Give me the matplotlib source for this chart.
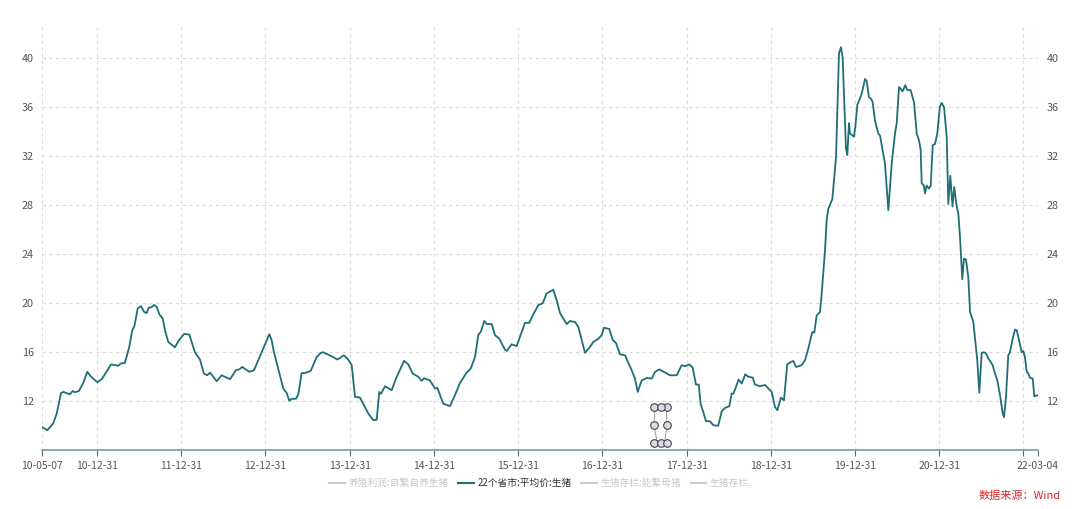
import pandas as pd
import matplotlib
matplotlib.use("Agg")
import matplotlib.pyplot as plt
from matplotlib.lines import Line2D

plt.rcParams['font.family'] = ['Noto Sans CJK SC', 'DejaVu Sans']

# weekly hog price, 22 provinces average (yuan/kg), time as decimal year
t_year = [
    2010.345, 2010.408, 2010.479, 2010.520, 2010.571, 2010.598, 2010.677, 2010.710, 2010.737, 2010.784,
    2010.835, 2010.883, 2010.923, 2011.002, 2011.054, 2011.120, 2011.164, 2011.212, 2011.251, 2011.279,
    2011.330, 2011.381, 2011.417, 2011.441, 2011.481, 2011.520, 2011.556, 2011.588, 2011.612, 2011.639,
    2011.675, 2011.707, 2011.738, 2011.778, 2011.805, 2011.844, 2011.924, 2011.963, 2012.034, 2012.094,
    2012.161, 2012.221, 2012.268, 2012.307, 2012.340, 2012.419, 2012.478, 2012.577, 2012.648, 2012.687,
    2012.723, 2012.806, 2012.862, 2012.953, 2013.004, 2013.044, 2013.072, 2013.099, 2013.210, 2013.250,
    2013.281, 2013.310, 2013.361, 2013.388, 2013.428, 2013.467, 2013.535, 2013.606, 2013.654, 2013.685,
    2013.803, 2013.851, 2013.930, 2013.981, 2014.022, 2014.061, 2014.120, 2014.219, 2014.278, 2014.319,
    2014.349, 2014.370, 2014.417, 2014.497, 2014.548, 2014.587, 2014.643, 2014.694, 2014.746, 2014.812,
    2014.853, 2014.880, 2014.951, 2015.011, 2015.038, 2015.109, 2015.189, 2015.248, 2015.308, 2015.379,
    2015.435, 2015.486, 2015.525, 2015.557, 2015.596, 2015.625, 2015.684, 2015.723, 2015.774, 2015.842,
    2015.862, 2015.921, 2015.981, 2016.040, 2016.079, 2016.130, 2016.171, 2016.237, 2016.289, 2016.337,
    2016.415, 2016.456, 2016.495, 2016.574, 2016.614, 2016.673, 2016.712, 2016.792, 2016.851, 2016.890,
    2016.950, 2016.990, 2017.017, 2017.080, 2017.121, 2017.160, 2017.207, 2017.267, 2017.346, 2017.385,
    2017.417, 2017.465, 2017.524, 2017.584, 2017.623, 2017.674, 2017.801, 2017.880, 2017.940, 2017.979,
    2018.030, 2018.070, 2018.109, 2018.142, 2018.165, 2018.196, 2018.228, 2018.276, 2018.315, 2018.374,
    2018.415, 2018.454, 2018.505, 2018.533, 2018.552, 2018.584, 2018.616, 2018.652, 2018.695, 2018.730,
    2018.783, 2018.810, 2018.869, 2018.929, 2019.008, 2019.047, 2019.075, 2019.119, 2019.154, 2019.193,
    2019.225, 2019.265, 2019.297, 2019.364, 2019.404, 2019.443, 2019.490, 2019.514, 2019.542, 2019.582,
    2019.602, 2019.641, 2019.661, 2019.680, 2019.728, 2019.772, 2019.807, 2019.831, 2019.851, 2019.890,
    2019.906, 2019.926, 2019.938, 2019.985, 2020.001, 2020.025, 2020.077, 2020.116, 2020.136, 2020.163,
    2020.187, 2020.207, 2020.235, 2020.274, 2020.294, 2020.353, 2020.393, 2020.433, 2020.472, 2020.492,
    2020.520, 2020.540, 2020.563, 2020.594, 2020.618, 2020.658, 2020.698, 2020.730, 2020.757, 2020.777,
    2020.789, 2020.816, 2020.828, 2020.848, 2020.876, 2020.896, 2020.920, 2020.947, 2020.974, 2021.006,
    2021.027, 2021.054, 2021.086, 2021.105, 2021.129, 2021.155, 2021.175, 2021.202, 2021.224, 2021.244,
    2021.271, 2021.291, 2021.315, 2021.342, 2021.363, 2021.402, 2021.449, 2021.473, 2021.501, 2021.529,
    2021.552, 2021.580, 2021.632, 2021.659, 2021.687, 2021.719, 2021.751, 2021.766, 2021.790, 2021.817,
    2021.837, 2021.869, 2021.897, 2021.917, 2021.941, 2021.976, 2021.995, 2022.015, 2022.036, 2022.055,
    2022.075, 2022.107, 2022.126, 2022.170,
]
price = [
    9.9, 9.63, 10.2, 11.0, 12.68, 12.76, 12.57, 12.84, 12.73, 12.84,
    13.5, 14.4, 14.04, 13.55, 13.8, 14.5, 15.0, 14.94, 14.9, 15.08,
    15.13, 16.43, 17.8, 18.1, 19.57, 19.76, 19.3, 19.2, 19.65, 19.65,
    19.86, 19.7, 19.1, 18.75, 17.8, 16.84, 16.4, 16.9, 17.5, 17.44,
    16.0, 15.4, 14.26, 14.12, 14.34, 13.63, 14.12, 13.8, 14.53, 14.6,
    14.8, 14.4, 14.53, 16.0, 16.84, 17.47, 16.98, 16.0, 13.04, 12.68,
    12.03, 12.2, 12.2, 12.57, 14.3, 14.3, 14.47, 15.6, 15.95, 16.0,
    15.6, 15.4, 15.75, 15.4, 14.94, 12.35, 12.3, 11.0, 10.45, 10.5,
    12.76, 12.6, 13.22, 12.9, 13.85, 14.45, 15.3, 15.0, 14.26, 14.0,
    13.66, 13.88, 13.7, 13.04, 13.1, 11.8, 11.6, 12.5, 13.5, 14.26,
    14.67, 15.6, 17.4, 17.7, 18.55, 18.3, 18.3, 17.4, 17.1, 16.2,
    16.1, 16.65, 16.5, 17.65, 18.4, 18.4, 19.0, 19.84, 20.0, 20.8,
    21.1, 20.24, 19.2, 18.3, 18.55, 18.47, 18.07, 15.95, 16.43, 16.84,
    17.1, 17.4, 18.0, 17.9, 17.0, 16.75, 15.84, 15.75, 14.53, 13.85,
    12.76, 13.7, 13.9, 13.85, 14.4, 14.6, 14.12, 14.12, 14.94, 14.86,
    15.0, 14.75, 13.36, 13.36, 11.76, 11.13, 10.37, 10.37, 10.04, 10.0,
    11.18, 11.45, 11.6, 12.63, 12.6, 13.17, 13.77, 13.44, 14.2, 14.0,
    13.93, 13.36, 13.22, 13.33, 12.76, 11.53, 11.27, 12.3, 12.08, 15.0,
    15.16, 15.29, 14.8, 14.94, 15.35, 16.3, 17.65, 17.6, 19.0, 19.3,
    20.8, 24.3, 26.8, 27.7, 28.5, 31.9, 40.4, 40.9, 40.0, 32.6,
    32.1, 34.7, 33.85, 33.6, 34.4, 36.2, 37.1, 38.3, 38.15, 36.8,
    36.7, 36.4, 34.9, 33.85, 33.7, 31.4, 27.6, 31.4, 33.85, 34.67,
    37.65, 37.5, 37.3, 37.8, 37.4, 37.4, 36.4, 33.85, 33.3, 32.5,
    29.8, 29.6, 28.96, 29.6, 29.36, 29.6, 32.9, 33.0, 33.85, 36.1,
    36.35, 36.0, 33.6, 28.1, 30.4, 27.9, 29.5, 28.0, 27.3, 25.4,
    21.96, 23.65, 23.57, 22.15, 19.3, 18.47, 15.35, 12.7, 15.95, 16.0,
    15.9, 15.5, 14.94, 14.26, 13.7, 12.5, 11.0, 10.7, 12.35, 15.75,
    16.0, 17.1, 17.85, 17.8, 17.1, 16.0, 16.1, 15.6, 14.4, 14.26,
    13.9, 13.85, 12.4, 12.5,
]

tick_dates = ["2010-05-07", "2010-12-31", "2011-12-31", "2012-12-31", "2013-12-31",
              "2014-12-31", "2015-12-31", "2016-12-31", "2017-12-31", "2018-12-31",
              "2019-12-31", "2020-12-31", "2021-12-31", "2022-03-04"]
tick_labels = ["10-05-07", "10-12-31", "11-12-31", "12-12-31", "13-12-31",
               "14-12-31", "15-12-31", "16-12-31", "17-12-31", "18-12-31",
               "19-12-31", "20-12-31", "", "22-03-04"]
y_ticks = [12, 16, 20, 24, 28, 32, 36, 40]

legend_names = ["养殖利润:自繁自养生猪", "22个省市:平均价:生猪", "生猪存栏:能繁母猪", "生猪存栏"]
legend_active = [False, True, False, False]

# little selection handle left over in the screenshot
handle_x = [2017.611, 2017.694, 2017.766]
handle_y = [11.51, 10.04, 8.57]


def dec_year(s):
    d = pd.Timestamp(s)
    n = 366 if d.is_leap_year else 365
    return d.year + (d.dayofyear - 1) / n


tick_pos = [dec_year(s) for s in tick_dates]

line_color = "#1f6e78"
fig = plt.figure(figsize=(10.8, 5.09), dpi=100)
ax = fig.add_axes([42 / 1080, 1 - 449.5 / 509, 996 / 1080, 422.5 / 509])

ax.plot(t_year, price, color=line_color, lw=1.3, zorder=3, solid_joinstyle="round")

# handle glyph
hx = [handle_x[0], handle_x[0], handle_x[0], handle_x[1], handle_x[2], handle_x[2], handle_x[2], handle_x[1]]
hy = [handle_y[0], handle_y[1], handle_y[2], handle_y[2], handle_y[2], handle_y[1], handle_y[0], handle_y[0]]
ax.plot([handle_x[0] + 0.01, handle_x[0], handle_x[0] + 0.04], handle_y, color="#999999", lw=0.7, zorder=4)
ax.plot([handle_x[2] - 0.01, handle_x[2], handle_x[2] - 0.03], handle_y, color="#999999", lw=0.7, zorder=4)
ax.scatter(hx, hy, s=30, facecolor="#d9dee6", edgecolor="#444444", linewidths=0.8, zorder=5)

ax.set_xlim(tick_pos[0], tick_pos[-1])
ax.set_ylim(8.06, 42.55)
ax.set_xticks(tick_pos)
ax.set_xticklabels(tick_labels)
ax.set_yticks(y_ticks)

ax.grid(True, color="#dcdcdc", lw=0.8, ls=(0, (3, 3)))
ax.set_axisbelow(True)
for s in ["top", "left", "right"]:
    ax.spines[s].set_visible(False)
ax.spines["bottom"].set_color("#5f959b")
ax.spines["bottom"].set_linewidth(1.1)

ax.tick_params(axis="x", length=4, width=0.8, color="#666666", labelsize=7.5, labelcolor="#555555", pad=4)
ax.tick_params(axis="y", length=0, labelsize=7.8, labelcolor="#555555", pad=6,
               labelleft=True, labelright=True)

handles = []
for name, act in zip(legend_names, legend_active):
    handles.append(Line2D([], [], color=line_color if act else "#cccccc", lw=1.5))
leg = fig.legend(handles, legend_names, loc="center", bbox_to_anchor=(539 / 1080, 1 - 483 / 509),
                 ncol=4, frameon=False, fontsize=7, handlelength=1.6, handletextpad=0.35,
                 columnspacing=1.0)
for txt, act in zip(leg.get_texts(), legend_active):
    txt.set_color("#333333" if act else "#c8c8c8")

fig.text(1061 / 1080, 1 - 496 / 509, "数据来源：Wind", color="#d9262a", fontsize=8,
         ha="right", va="center")

fig.savefig("out.png", dpi=100)
